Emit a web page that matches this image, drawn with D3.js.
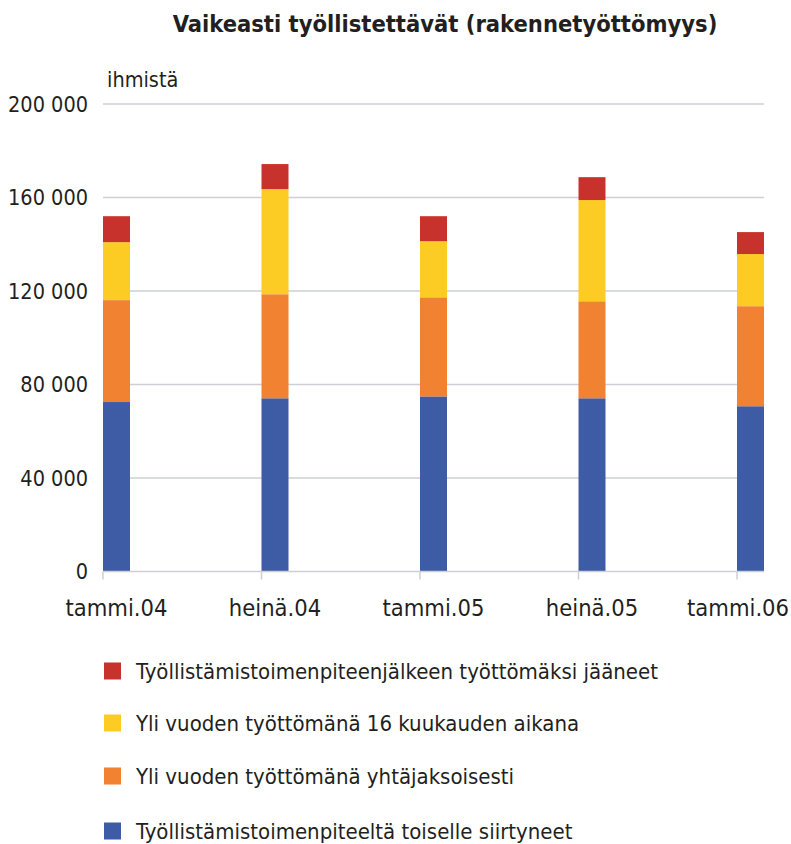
<!DOCTYPE html>
<html><head><meta charset="utf-8">
<script src="https://cdn.jsdelivr.net/npm/d3@7"></script>
<style>body{margin:0;background:#fff}svg{display:block}</style>
</head><body>
<script>
const categories = ["tammi.04","heinä.04","tammi.05","heinä.05","tammi.06"];
const seriesNames = [
  "Työllistämistoimenpiteeltä toiselle siirtyneet",
  "Yli vuoden työttömänä yhtäjaksoisesti",
  "Yli vuoden työttömänä 16 kuukauden aikana",
  "Työllistämistoimenpiteenjälkeen työttömäksi jääneet"
];
const siirtyneet   = [72500, 74100, 74900, 74100, 70700];
const yhtajaksoisesti = [43600, 44500, 42400, 41500, 42800];
const kuukauden16  = [24800, 45000, 24000, 43300, 22300];
const jaaneet      = [11100, 10700, 10700, 9800, 9400];
const yTicks = [0, 40000, 80000, 120000, 160000, 200000];
const colors = ["#3E5BA6", "#F08231", "#FCCB24", "#C8322C"];

const W = 791, H = 844;
const svg = d3.select("body").append("svg").attr("width", W).attr("height", H);
const FONT = "'Liberation Sans Narrow','DejaVu Sans Condensed',sans-serif";

const rows = categories.map((c, i) => ({cat: c, s0: siirtyneet[i], s1: yhtajaksoisesti[i], s2: kuukauden16[i], s3: jaaneet[i]}));
const stack = d3.stack().keys(["s0","s1","s2","s3"])(rows);

const y = d3.scaleLinear().domain([0, 200000]).range([571.5, 104]);
const x = d3.scalePoint().domain(categories).range([103, 737]);
const barW = 27;
const plotR = 764;

// title
svg.append("text").attr("x", 445).attr("y", 32).attr("text-anchor", "middle")
  .attr("font-family", FONT).attr("font-weight", "bold").attr("font-size", 23.5).attr("fill", "#231f20")
  .text("Vaikeasti työllistettävät (rakennetyöttömyys)");
svg.append("text").attr("x", 107).attr("y", 87)
  .attr("font-family", FONT).attr("font-size", 21.5).attr("fill", "#231f20").text("ihmistä");

// grid
const fmt = v => d3.format(",")(v).replace(/,/g, " ");
svg.append("g").selectAll("line").data(yTicks.filter(d => d > 0)).join("line")
  .attr("x1", 103).attr("x2", plotR).attr("y1", d => y(d)).attr("y2", d => y(d))
  .attr("stroke", "#CDD0D5").attr("stroke-width", 1.5);
svg.append("g").selectAll("text").data(yTicks).join("text")
  .attr("x", 88).attr("y", d => y(d)).attr("dy", "0.36em").attr("text-anchor", "end")
  .attr("font-family", FONT).attr("font-size", 21.5).attr("fill", "#231f20").text(fmt);

// bars
svg.append("g").selectAll("g").data(stack).join("g").attr("fill", (d, i) => colors[i])
  .selectAll("rect").data(d => d).join("rect")
  .attr("x", d => x(d.data.cat)).attr("width", barW)
  .attr("y", d => y(d[1])).attr("height", d => y(d[0]) - y(d[1]));

// x axis
svg.append("line").attr("x1", 103).attr("x2", plotR).attr("y1", y(0)).attr("y2", y(0))
  .attr("stroke", "#CDD0D5").attr("stroke-width", 1.5);
svg.append("g").selectAll("line").data(categories).join("line")
  .attr("x1", d => x(d)).attr("x2", d => x(d)).attr("y1", y(0)).attr("y2", y(0) + 8)
  .attr("stroke", "#CDD0D5").attr("stroke-width", 1.5);
const xl = svg.append("g").selectAll("text").data(categories).join("text")
  .attr("x", d => x(d) + barW / 2).attr("y", 616).attr("text-anchor", "middle")
  .attr("font-family", FONT).attr("font-size", 23.5).attr("fill", "#231f20").text(d => d);
xl.each(function() {
  const b = this.getBBox();
  if (b.x + b.width > 789) d3.select(this).attr("x", +d3.select(this).attr("x") - (b.x + b.width - 789));
});

// legend
const legOrder = [3, 2, 1, 0];
const legY = [671, 723, 776, 831];
const lg = svg.append("g").selectAll("g").data(legOrder).join("g")
  .attr("transform", (d, i) => `translate(0,${legY[i]})`);
lg.append("rect").attr("x", 104).attr("y", -8.5).attr("width", 17).attr("height", 17).attr("fill", d => colors[d]);
lg.append("text").attr("x", 136).attr("dy", "0.36em").attr("font-family", FONT).attr("font-size", 22)
  .attr("fill", "#231f20").text(d => seriesNames[d]);
</script>
</body></html>
